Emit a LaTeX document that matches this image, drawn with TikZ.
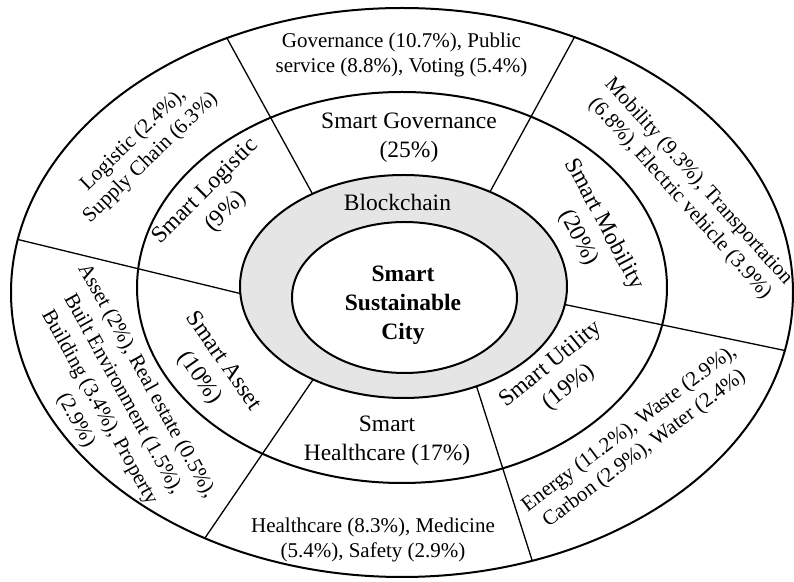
\documentclass[tikz,border=0pt]{standalone}
\usepackage{fontspec}
\setmainfont{Liberation Serif}
\begin{document}
\begin{tikzpicture}[x=0.5pt,y=-0.5pt,
  ring/.style={line width=1pt},
  divider/.style={line width=0.65pt, shorten <=-12pt, shorten >=-12pt},
  innertext/.style={font=\fontsize{11.75}{14.5}\selectfont, align=center, inner sep=0pt},
  outertext/.style={font=\fontsize{10.5}{12.5}\selectfont, align=center, inner sep=0pt},
]
\useasboundingbox (0,0) rectangle (794,582);
% divider end points
\coordinate (a1) at (228,40);  \coordinate (b1) at (312,193);
\coordinate (a2) at (574,38);  \coordinate (b2) at (491,190);
\coordinate (a3) at (792,352); \coordinate (b3) at (567,305);
\coordinate (a4) at (532,560); \coordinate (b4) at (479,394);
\coordinate (a5) at (207,535); \coordinate (b5) at (308,387);
\coordinate (a6) at (20,240);  \coordinate (b6) at (238,293);
\begin{scope}
  \clip (402,292.5) ellipse [x radius=391, y radius=284.5];
  \foreach \i in {1,...,6} { \draw[divider] (a\i) -- (b\i); }
\end{scope}
% rings
\draw[ring] (402,287.5) ellipse [x radius=265, y radius=195.5];
\draw[ring, fill=gray!20] (403.5,286.5) ellipse [x radius=163.5, y radius=111.5];
\draw[ring, fill=white] (404.5,297.5) ellipse [x radius=112.5, y radius=75.5];
\draw[ring] (402,292.5) ellipse [x radius=391, y radius=284.5];
% texts
\node[outertext] (govO) at (401.5,55) {Governance (10.7\%), Public\\service (8.8\%), Voting (5.4\%)};
\node[innertext] (govI) at (409,138) {Smart Governance\\(25\%)};
\node[innertext, anchor=base] (bc) at (397.5,211) {Blockchain};
\node[innertext, font=\fontsize{11.75}{14.5}\selectfont\bfseries] (ssc) at (403,305) {Smart\\Sustainable\\City};
\node[innertext] (hcI) at (387,440.5) {Smart\\Healthcare (17\%)};
\node[outertext] (hcO) at (373,539.5) {Healthcare (8.3\%), Medicine\\(5.4\%), Safety (2.9\%)};
\node[innertext, rotate=45] (logI) at (216,202) {Smart Logistic\\(9\%)};
\node[outertext, rotate=44] (logO) at (142,149) {Logistic (2.4\%),\\Supply Chain (6.3\%)};
\node[innertext, rotate=-62] (mobI) at (591,231) {Smart Mobility\\(20\%)};
\node[outertext, rotate=-48] (mobO) at (689,190) {Mobility (9.3\%), Transportation\\(6.8\%), Electric vehicle (3.9\%)};
\node[innertext, rotate=39] (utiI) at (560,376) {Smart Utility\\(19\%)};
\node[outertext, rotate=37] (utiO) at (637,439) {Energy (11.2\%), Waste (2.9\%),\\Carbon (2.9\%), Water (2.4\%)};
\node[innertext, rotate=-55] (assI) at (211,370) {Smart Asset\\(10\%)};
\node[outertext, rotate=-61, font=\fontsize{10.5}{13.5}\selectfont] (assO) at (111,401) {Asset (2\%), Real estate (0.5\%),\\Built Environment (1.5\%),\\Building (3.4\%), Property\\(2.9\%)};
\end{tikzpicture}
\end{document}
